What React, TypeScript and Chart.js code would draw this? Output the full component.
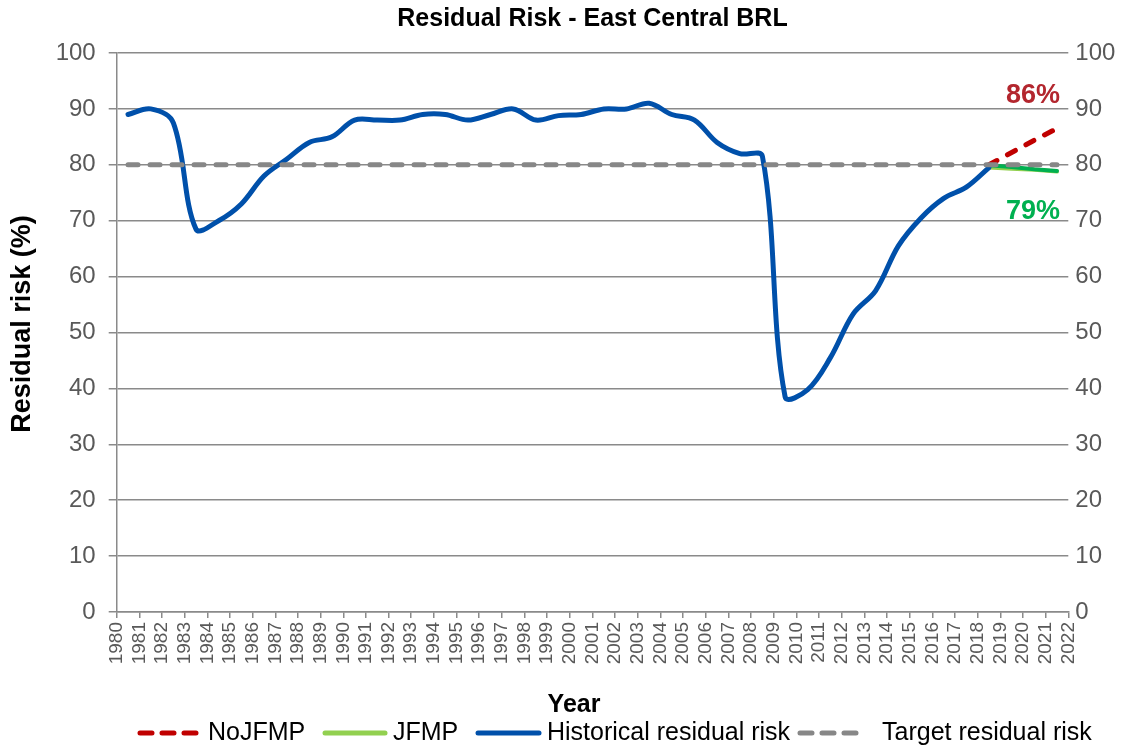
import React, { useEffect, useRef } from "react";
import { Chart, registerables } from "chart.js";

Chart.register(...registerables);

const FONT = '"Liberation Sans", Arial, Helvetica, sans-serif';

const chartTitle = "Residual Risk - East Central BRL";
const xAxisTitle = "Year";
const yAxisTitle = "Residual risk (%)";

const xMin = 1980;
const xMax = 2022;

const historicalYears = [
  1980.5, 1981.5, 1982.5, 1983.5, 1984.5, 1985.5, 1986.5, 1987.5, 1988.5, 1989.5,
  1990.5, 1991.5, 1992.5, 1993.5, 1994.5, 1995.5, 1996.5, 1997.5, 1998.5, 1999.5,
  2000.5, 2001.5, 2002.5, 2003.5, 2004.5, 2005.5, 2006.5, 2007.5, 2008.5, 2009.5,
  2010.5, 2011.5, 2012.5, 2013.5, 2014.5, 2015.5, 2016.5, 2017.5, 2018.5,
];
const historicalRisk = [
  89, 90, 87.5, 68.5, 70, 73, 78, 81, 84, 85,
  88, 88, 88, 89, 89, 88, 89, 90, 88, 88.8,
  89, 90, 90, 91, 89, 88, 84, 82, 81.5, 38.5,
  39.8, 45.5, 53.3, 57.5, 65.5, 70.5, 74, 76, 79.5,
];

const projectionYears = [2018.5, 2019.5, 2020.5, 2021.5];
const noJfmpRisk = [80, 82.2, 84.4, 86.5];
const jfmpRisk = [79.5, 79.3, 79.1, 78.8];
const jfmpTrendRisk = [79.9, 79.6, 79.2, 78.9];

const targetYears = [1980.5, 2021.5];
const targetRisk = [80, 80];

const noJfmpLabel = "86%";
const jfmpLabel = "79%";

const legendItems = [
  { label: "NoJFMP", color: "#C00000", dash: [12, 10], sx: 137, ex: 199, tx: 208 },
  { label: "JFMP", color: "#92D050", dash: [] as number[], sx: 322, ex: 388, tx: 393 },
  { label: "Historical residual risk", color: "#0050AA", dash: [] as number[], sx: 475, ex: 542, tx: 547 },
  { label: "Target residual risk", color: "#878787", dash: [12, 10], sx: 797, ex: 866, tx: 882 },
];

const pts = (xs: number[], ys: number[]) => xs.map((x, i) => ({ x, y: ys[i] }));

const decorPlugin = {
  id: "decor",
  afterDraw(chart: any) {
    const ctx = chart.ctx as CanvasRenderingContext2D;
    const a = chart.chartArea;
    const xs = chart.scales.x;
    const ys = chart.scales.y;
    ctx.save();
    ctx.fillStyle = "#000";
    ctx.textBaseline = "middle";
    ctx.textAlign = "center";
    ctx.font = `bold 25px ${FONT}`;
    ctx.fillText(chartTitle, (a.left + a.right) / 2, 19);
    ctx.fillText(xAxisTitle, 574, 705);
    ctx.save();
    ctx.font = `bold 27px ${FONT}`;
    ctx.translate(23, 324);
    ctx.rotate(-Math.PI / 2);
    ctx.fillText(yAxisTitle, 0, 0);
    ctx.restore();

    ctx.font = `bold 27px ${FONT}`;
    ctx.textAlign = "right";
    ctx.fillStyle = "#B3262E";
    ctx.fillText(noJfmpLabel, xs.getPixelForValue(2021.5) + 3, ys.getPixelForValue(92.4));
    ctx.fillStyle = "#00B050";
    ctx.fillText(jfmpLabel, xs.getPixelForValue(2021.5) + 3, ys.getPixelForValue(71.6));

    // legend
    ctx.font = `25px ${FONT}`;
    ctx.textAlign = "left";
    const y = 733;
    for (const item of legendItems) {
      ctx.save();
      ctx.strokeStyle = item.color;
      ctx.lineWidth = 5;
      ctx.lineCap = "round";
      ctx.setLineDash(item.dash);
      ctx.beginPath();
      ctx.moveTo(item.sx + 3, y);
      ctx.lineTo(item.ex - 3, y);
      ctx.stroke();
      ctx.restore();
      ctx.fillStyle = "#000";
      ctx.fillText(item.label, item.tx, y);
    }
    ctx.restore();
  },
};

export default function App() {
  const ref = useRef<HTMLCanvasElement | null>(null);
  useEffect(() => {
    if (!ref.current) return;
    const gridColor = "#8A8A8A";
    const chart = new Chart(ref.current, {
      type: "line",
      data: {
        datasets: [
          {
            label: "Target residual risk",
            data: pts(targetYears, targetRisk),
            borderColor: "#878787",
            borderWidth: 5,
            borderDash: [10, 12],
            borderCapStyle: "round",
            pointRadius: 0,
            order: 0,
          },
          {
            label: "Historical residual risk",
            data: pts(historicalYears, historicalRisk),
            borderColor: "#0050AA",
            borderWidth: 5,
            tension: 0.35,
            borderCapStyle: "round",
            pointRadius: 0,
            order: 1,
          },
          {
            label: "NoJFMP",
            data: pts(projectionYears, noJfmpRisk),
            borderColor: "#C00000",
            borderWidth: 5,
            borderDash: [9, 12],
            borderCapStyle: "round",
            pointRadius: 0,
            order: 2,
          },
          {
            label: "JFMP trend",
            data: pts(projectionYears, jfmpTrendRisk),
            borderColor: "#00B050",
            borderWidth: 4,
            borderCapStyle: "round",
            pointRadius: 0,
            order: 3,
          },
          {
            label: "JFMP",
            data: pts(projectionYears, jfmpRisk),
            borderColor: "#92D050",
            borderWidth: 4,
            borderCapStyle: "round",
            pointRadius: 0,
            order: 4,
          },
        ],
      },
      options: {
        animation: false,
        responsive: false,
        maintainAspectRatio: false,
        layout: { padding: { top: 53, bottom: 0, left: 0, right: 0 } },
        plugins: {
          legend: { display: false },
          title: { display: false },
          tooltip: { enabled: false },
        },
        scales: {
          x: {
            type: "linear",
            min: xMin,
            max: xMax,
            afterFit: (s: any) => {
              s.height = 136;
            },
            ticks: {
              stepSize: 1,
              autoSkip: false,
              minRotation: 90,
              maxRotation: 90,
              padding: 4,
              color: "#595959",
              font: { family: FONT, size: 19 },
              callback: (v: any) => String(v),
            },
            grid: {
              drawOnChartArea: false,
              drawTicks: true,
              tickLength: 6,
              color: gridColor,
              lineWidth: 1.5,
            },
            border: { display: true, color: gridColor, width: 1.5 },
          },
          y: {
            type: "linear",
            position: "left",
            min: 0,
            max: 100,
            afterFit: (s: any) => {
              s.width = 116.7;
            },
            ticks: {
              stepSize: 10,
              padding: 13,
              color: "#595959",
              font: { family: FONT, size: 24 },
            },
            grid: {
              color: gridColor,
              lineWidth: 1.5,
              tickLength: 8,
            },
            border: { display: true, color: gridColor, width: 1.5 },
          },
          y2: {
            type: "linear",
            position: "right",
            min: 0,
            max: 100,
            afterFit: (s: any) => {
              s.width = 66.7;
            },
            ticks: {
              stepSize: 10,
              padding: 7,
              color: "#595959",
              font: { family: FONT, size: 24 },
            },
            grid: { display: false, drawTicks: false },
            border: { display: false },
          },
        },
      },
      plugins: [decorPlugin],
    });
    return () => chart.destroy();
  }, []);

  return (
    <canvas
      ref={ref}
      width={1135}
      height={748}
      style={{ position: "absolute", left: 0, top: 0, width: 1135, height: 748 }}
    />
  );
}
